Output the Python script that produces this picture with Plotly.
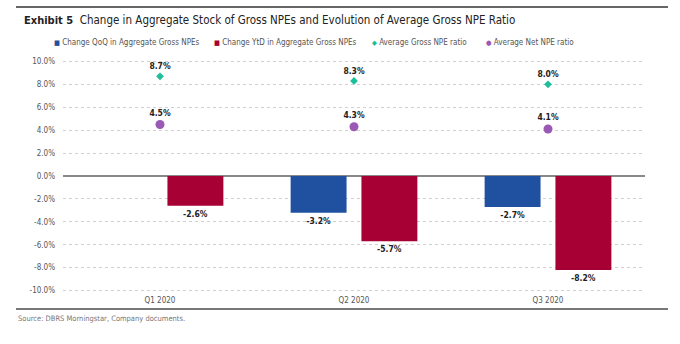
import plotly.graph_objects as go

categories = ["Q1 2020", "Q2 2020", "Q3 2020"]
qoq = [None, -3.2, -2.7]
ytd = [-2.6, -5.7, -8.2]
gross_ratio = [8.7, 8.3, 8.0]
net_ratio = [4.5, 4.3, 4.1]
y_ticks = [10, 8, 6, 4, 2, 0, -2, -4, -6, -8, -10]

BLUE = "#1F51A0"
RED = "#A60035"
TEAL = "#1DBE9A"
PURPLE = "#9B59B6"
FONT = "DejaVu Sans Condensed, Liberation Sans Narrow, sans-serif"
LBL = dict(family=FONT, size=8.5, color="#222", weight="bold")

def fmt(v):
    return "" if v is None else f"{v:.1f}%"

fig = go.Figure()
fig.add_trace(go.Bar(x=categories, y=qoq, name="Change QoQ in Aggregate Gross NPEs",
                     marker=dict(color=BLUE, line=dict(width=0)),
                     text=[fmt(v) for v in qoq], textposition="outside",
                     textfont=LBL, cliponaxis=False))
fig.add_trace(go.Bar(x=categories, y=ytd, name="Change YtD in Aggregate Gross NPEs",
                     marker=dict(color=RED, line=dict(width=0)),
                     text=[fmt(v) for v in ytd], textposition="outside",
                     textfont=LBL, cliponaxis=False))
fig.add_trace(go.Scatter(x=categories, y=gross_ratio, mode="markers+text", name="Average Gross NPE ratio",
                         marker=dict(symbol="diamond", size=6, color=TEAL),
                         text=[fmt(v) for v in gross_ratio], textposition="top center",
                         textfont=LBL))
fig.add_trace(go.Scatter(x=categories, y=net_ratio, mode="markers+text", name="Average Net NPE ratio",
                         marker=dict(symbol="circle", size=9, color=PURPLE),
                         text=[fmt(v) for v in net_ratio], textposition="top center",
                         textfont=LBL))

# plot area: x 63..645, y 50..294
L, R, T, B = 63, 35, 50, 50
PW, PH = 680 - L - R, 344 - T - B

def px(x):
    return (x - L) / PW

def py(y):
    return (344 - B - y) / PH

legend_items = [
    (52, BLUE, "■", "Change QoQ in Aggregate Gross NPEs"),
    (212, RED, "■", "Change YtD in Aggregate Gross NPEs"),
    (370, TEAL, "◆", "Average Gross NPE ratio"),
    (484, PURPLE, "●", "Average Net NPE ratio"),
]
annotations = []
for x0, col, sym, label in legend_items:
    annotations.append(dict(xref="paper", yref="paper", x=px(x0), y=py(43), xanchor="left", yanchor="middle",
                            text=f"<span style='color:{col};font-size:7px'>{sym}</span> {label}",
                            showarrow=False, font=dict(family=FONT, size=8, color="#555")))
annotations.append(dict(xref="paper", yref="paper", x=px(22), y=py(20), xanchor="left", yanchor="middle",
                        text="<b><span style='font-size:11px'>Exhibit 5</span></b>  Change in Aggregate Stock of Gross NPEs and Evolution of Average Gross NPE Ratio",
                        showarrow=False, font=dict(family=FONT, size=11.5, color="#222")))
annotations.append(dict(xref="paper", yref="paper", x=px(16), y=py(318), xanchor="left", yanchor="middle",
                        text="Source: DBRS Morningstar, Company documents.",
                        showarrow=False, font=dict(family=FONT, size=7.5, color="#777")))

shapes = [
    dict(type="line", xref="paper", yref="paper", x0=px(16), x1=px(668), y0=py(7), y1=py(7),
         line=dict(color="#666", width=2)),
    dict(type="line", xref="paper", yref="paper", x0=px(16), x1=px(668), y0=py(309), y1=py(309),
         line=dict(color="#777", width=2)),
]

fig.update_layout(
    width=680, height=344, margin=dict(l=L, r=R, t=T, b=B),
    paper_bgcolor="white", plot_bgcolor="white",
    barmode="group", bargap=0.27, bargroupgap=0.21,
    showlegend=False, annotations=annotations, shapes=shapes,
    font=dict(family=FONT, size=8, color="#555"),
)
fig.update_xaxes(showgrid=False, showline=False, ticks="", tickfont=dict(family=FONT, size=8, color="#555"))
fig.update_yaxes(range=[-10.3, 11.0], tickvals=y_ticks, ticktext=[f"{v:.1f}%" for v in y_ticks],
                 showgrid=True, gridcolor="#d0d0d0", griddash="dot", gridwidth=1,
                 zeroline=True, zerolinecolor="#888", zerolinewidth=2,
                 showline=False, ticks="", ticklabelstandoff=7,
                 tickfont=dict(family=FONT, size=8, color="#555"))

fig.write_html("out.html")
